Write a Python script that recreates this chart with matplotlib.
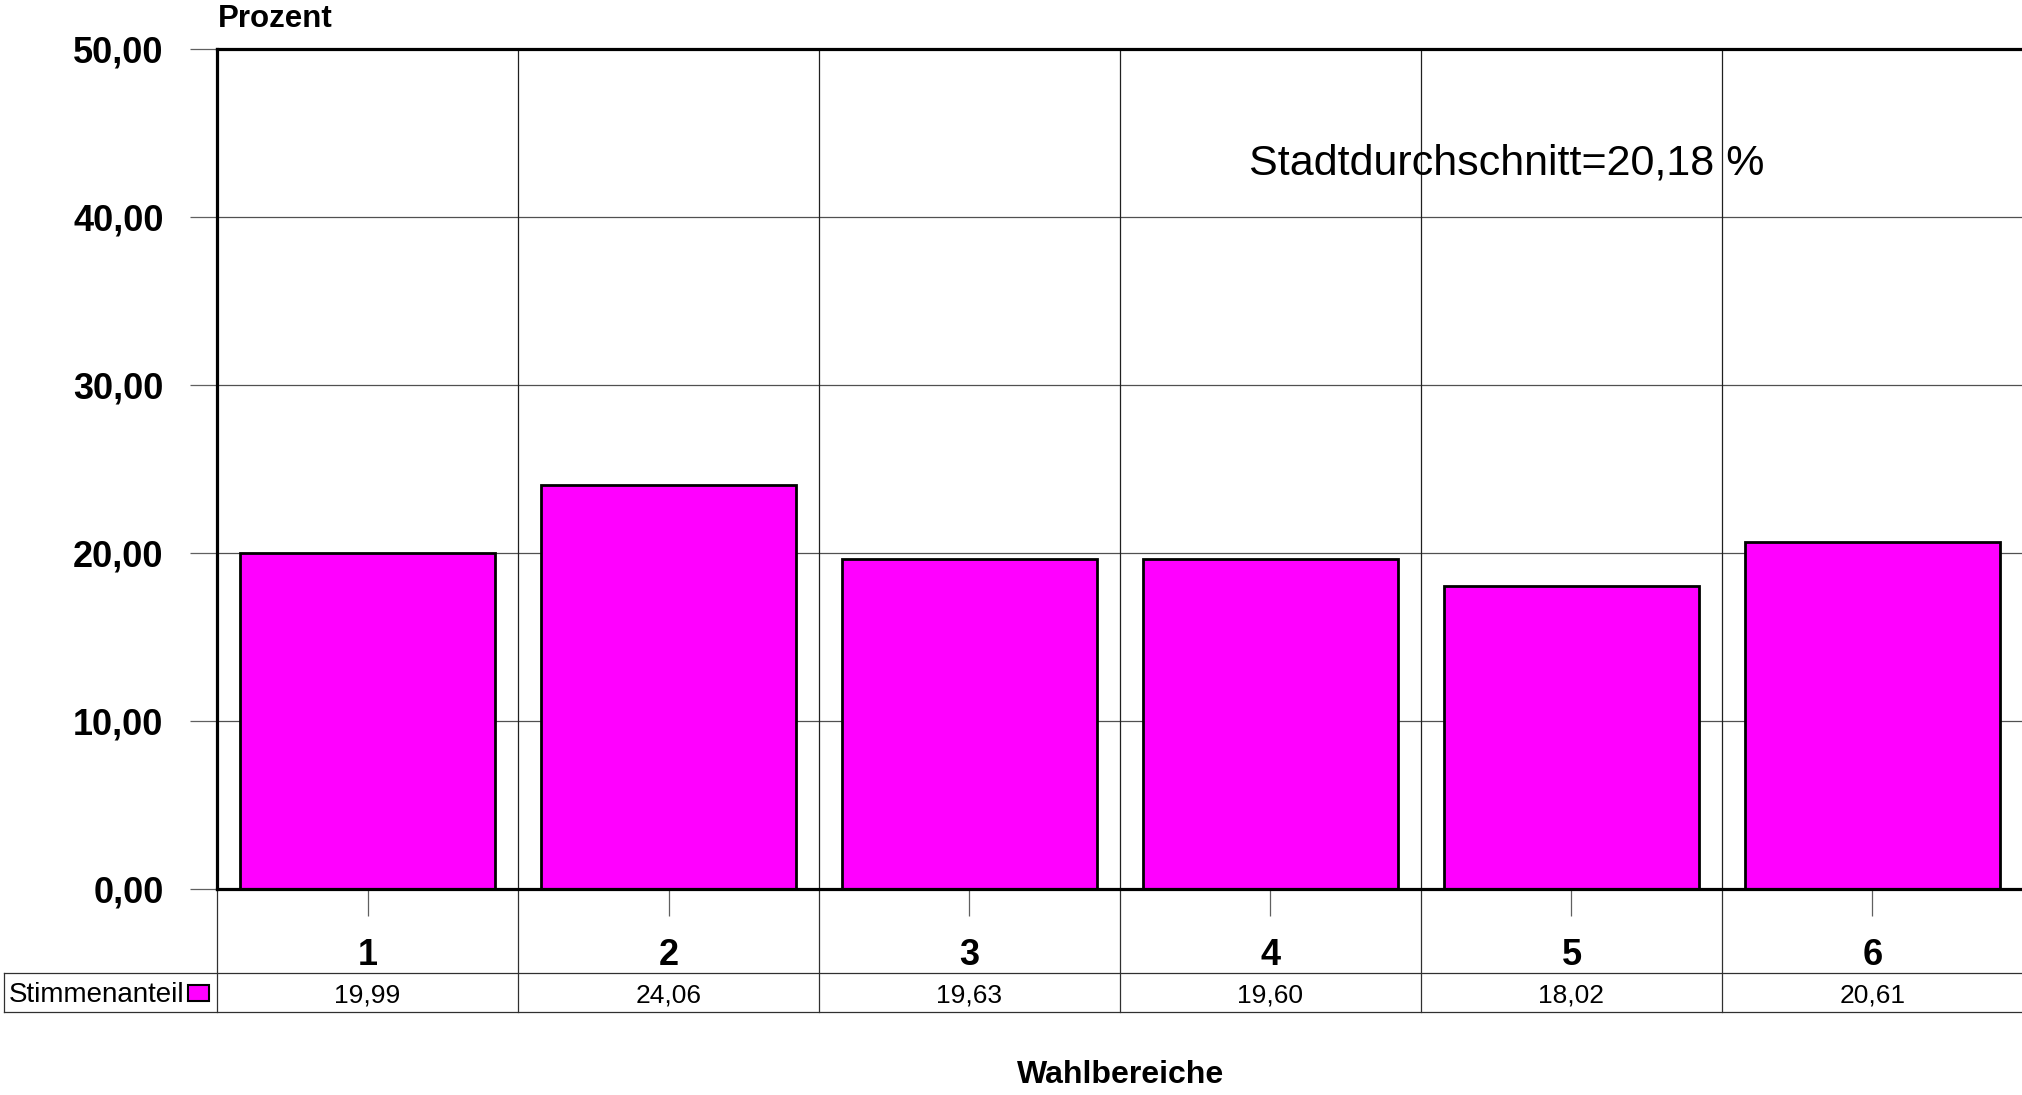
import matplotlib.pyplot as plt
import matplotlib.patches as mpatches

# ---------------------------------------------------------
# Daten
# ---------------------------------------------------------
wahlbereiche = ["1", "2", "3", "4", "5", "6"]
stimmenanteil = [19.99, 24.06, 19.63, 19.60, 18.02, 20.61]
y_ticks = [0, 10, 20, 30, 40, 50]
stadtdurchschnitt = 20.18

FONT = "Liberation Sans"
MAGENTA = "#ff00ff"

W, H = 2022, 1095
fig = plt.figure(figsize=(W / 100, H / 100), dpi=100)
plt.rcParams['font.family'] = [FONT, 'DejaVu Sans']

# Achsen in Pixelkoordinaten
x0, x1 = 217, 2023
y_top, y_zero = 49, 888.5
ax = fig.add_axes([x0 / W, (H - y_zero) / H, (x1 - x0) / W, (y_zero - y_top) / H])

def ay(py):
    # Pixel-y -> Achsenkoordinate
    return (y_zero - py) / (y_zero - y_top)

def dx(px):
    # Pixel-x -> Datenkoordinate
    return -0.5 + (px - x0) / (x1 - x0) * len(wahlbereiche)

n = len(wahlbereiche)
xs = list(range(n))

ax.bar(xs, stimmenanteil, width=0.85, color=MAGENTA, edgecolor="black", linewidth=2.0, zorder=3)

ax.set_xlim(-0.5, n - 0.5)
ax.set_ylim(0, 50)

# Gitter
for yv in y_ticks[1:-1]:
    ax.axhline(yv, color="#505050", lw=0.9, zorder=1)
for k in range(1, n):
    ax.axvline(k - 0.5, color="#202020", lw=0.9, zorder=1)

# Rahmen
for s in ["left", "top", "bottom"]:
    ax.spines[s].set_linewidth(2.3)
ax.spines["right"].set_linewidth(1.0)
ax.spines["bottom"].set_zorder(4)

# Y-Achse
ax.set_yticks(y_ticks)
ax.set_yticklabels([f"{v:.2f}".replace(".", ",") for v in y_ticks],
                   fontsize=26, fontweight="bold")
ax.tick_params(axis="y", length=19.5, width=0.9, color="#606060", pad=19)

# X-Achse: Ticks ohne Beschriftung, Labels manuell
ax.set_xticks(xs)
ax.set_xticklabels([])
ax.tick_params(axis="x", length=19.5, width=0.9, color="#606060")

tr = ax.get_xaxis_transform()
for x, lab in zip(xs, wahlbereiche):
    ax.text(x, ay(965), lab, transform=tr, ha="center", va="baseline",
            fontsize=26, fontweight="bold")

# Datentabelle
t_top, t_bot = 973, 1012
kw = dict(transform=tr, clip_on=False, color="#303030", lw=0.9)
ax.plot([dx(4), n - 0.5], [ay(t_top)] * 2, **kw)
ax.plot([dx(4), n - 0.5], [ay(t_bot)] * 2, **kw)
ax.plot([dx(4)] * 2, [ay(t_top), ay(t_bot)], **kw)
for k in range(n + 1):
    ax.plot([k - 0.5] * 2, [0, ay(t_bot)], **kw)

for x, v in zip(xs, stimmenanteil):
    ax.text(x, ay(1003), f"{v:.2f}".replace(".", ","), transform=tr,
            ha="center", va="baseline", fontsize=19)

ax.text(dx(9), ay(1002), "Stimmenanteil", transform=tr, ha="left", va="baseline", fontsize=20)
ax.add_patch(mpatches.Rectangle((dx(188), ay(1001)), dx(209) - dx(188), ay(985) - ay(1001),
                                transform=tr, clip_on=False, facecolor=MAGENTA,
                                edgecolor="black", lw=1.5))

# Beschriftungen
ax.text(0.0005, ay(27), "Prozent", transform=ax.transAxes, ha="left", va="baseline",
        fontsize=22.5, fontweight="bold")
ax.text(dx(1249), 50 * ay(175),
        "Stadtdurchschnitt=" + f"{stadtdurchschnitt:.2f}".replace(".", ",") + " %",
        ha="left", va="baseline", fontsize=31)
fig.text(1121 / W, (H - 1083) / H, "Wahlbereiche", ha="center", va="baseline",
         fontsize=23, fontweight="bold")

fig.savefig("out.png", dpi=100)
